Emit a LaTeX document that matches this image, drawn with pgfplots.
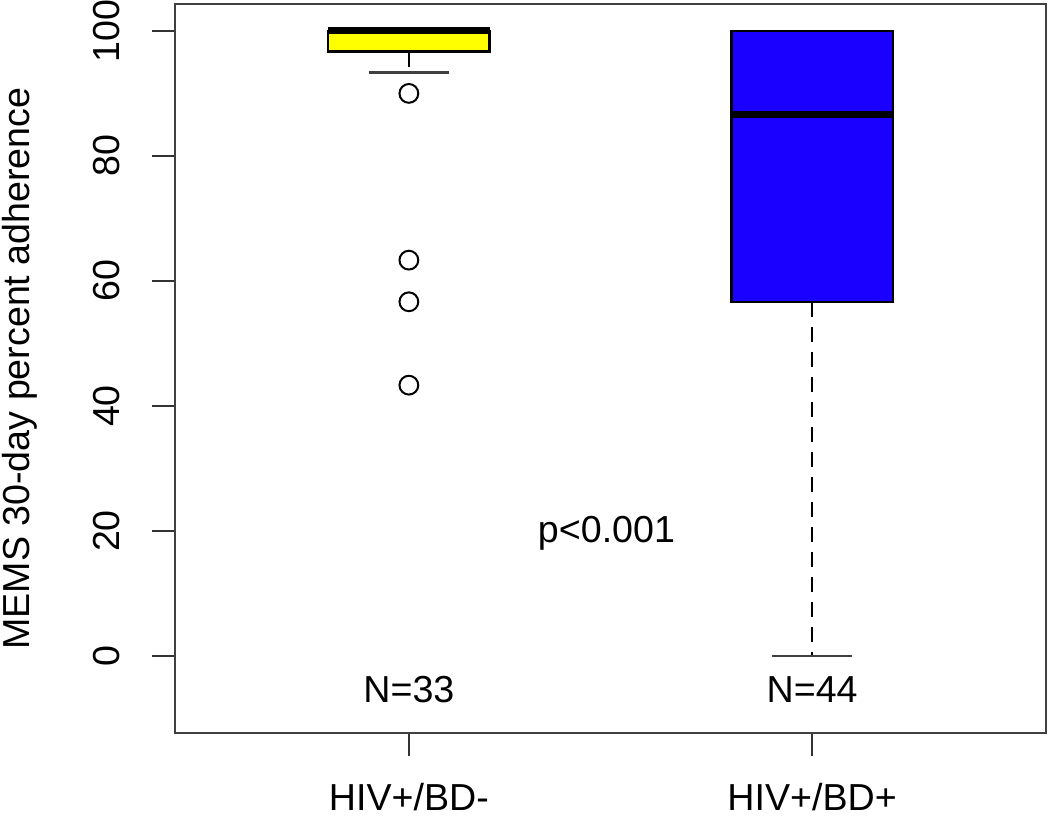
\documentclass[border=0pt]{standalone}
\usepackage{pgfplots}
\pgfplotsset{compat=1.18}
\usetikzlibrary{calc}
\usepackage{fontspec}
\setmainfont{Liberation Sans}
\definecolor{bdyellow}{RGB}{255,255,0}
\definecolor{bdblue}{RGB}{25,0,255}
\newcommand{\ff}{\fontsize{18.8}{22}\selectfont}
\begin{document}
\begin{tikzpicture}
\begin{axis}[
  scale only axis, width=435.5pt, height=364.5pt,
  xmin=0.42, xmax=2.58, ymin=-12.3, ymax=104.3,
  axis line style={black!75, line width=1.3pt},
  xtick={1,2}, xticklabels={HIV+/BD-, HIV+/BD+},
  ytick={0,20,40,60,80,100},
  tick pos=left,
  tick align=outside,
  major tick length=11.5pt,
  every tick/.style={black!80, line width=1pt},
  /pgf/number format/assume math mode=true,
  tick label style={font=\ff},
  xticklabel style={anchor=base},
  xticklabel shift=27.5pt,
  yticklabel style={rotate=90, anchor=base},
  yticklabel shift=16pt,
  ylabel={MEMS 30-day percent adherence},
  ylabel style={font=\ff, at={(rel axis cs:-0.178,0.5)}, anchor=center},
]
% whiskers (dashed) and caps
\addplot[black, line width=1.2pt, dash pattern=on 7.5pt off 5pt] coordinates {(1,96.67) (1,93.33)};
\addplot[black!75, line width=1.2pt] coordinates {(0.9,93.33) (1.1,93.33)};
\addplot[black, line width=1.2pt, dash pattern=on 7.5pt off 5pt] coordinates {(2,56.67) (2,0)};
\addplot[black!75, line width=1.2pt] coordinates {(1.9,0) (2.1,0)};
% boxes
\addplot[fill=bdyellow, draw=black, line width=1.2pt] coordinates {(0.8,96.67) (1.2,96.67) (1.2,100) (0.8,100)} -- cycle;
\addplot[fill=bdblue, draw=black, line width=1.2pt] coordinates {(1.8,56.67) (2.2,56.67) (2.2,100) (1.8,100)} -- cycle;
% medians
\addplot[black, line width=3.5pt] coordinates {(0.8,100) (1.2,100)};
\addplot[black, line width=3.5pt] coordinates {(1.8,86.67) (2.2,86.67)};
% outliers
\addplot[only marks, mark=o, mark size=4.7pt, mark options={black, line width=1pt}] coordinates {(1,90) (1,63.33) (1,56.67) (1,43.33)};
\node[font=\ff, anchor=base] at (axis cs:1,-7.4) {N=33};
\node[font=\ff, anchor=base] at (axis cs:2,-7.4) {N=44};
\node[font=\ff, anchor=base] at (axis cs:1.49,18.2) {p<0.001};
\end{axis}
\pgfresetboundingbox
\path[use as bounding box] ($(current axis.south west)+(-87.5pt,-43pt)$) rectangle ($(current axis.north east)+(2pt,2pt)$);
\end{tikzpicture}
\end{document}
